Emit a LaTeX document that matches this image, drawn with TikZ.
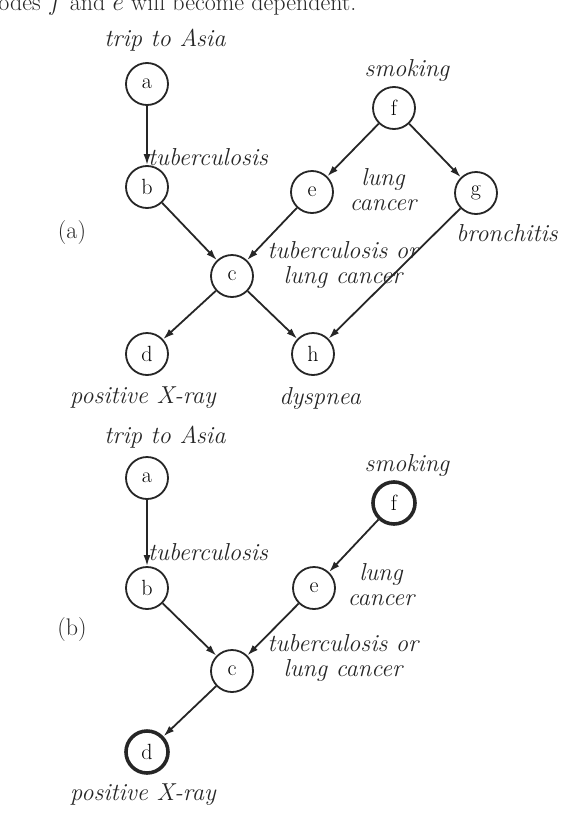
\documentclass[tikz,border=0pt]{standalone}
\usetikzlibrary{positioning,arrows.meta}

\begin{document}
\begin{tikzpicture}[
    x=1pt, y=-1pt,
    var/.style={draw=black!85, circle, line width=1.8pt, minimum size=42pt, inner sep=0pt, font=\fontsize{22}{24}\selectfont},
    obs/.style={var, line width=3.6pt},
    lbl/.style={font=\fontsize{24.5}{25}\selectfont\itshape, align=center, inner sep=0pt, text=black!85},
    tag/.style={font=\fontsize{24}{26}\selectfont, inner sep=0pt, text=black!85},
    arrow/.style={-{Latex[length=11pt,width=7pt]}, line width=1.8pt, draw=black!85}
]
\useasboundingbox (0,0) rectangle (588,822);

% Line of text above the figure (cut off)
\node[tag, anchor=base west] (caption) at (-14,10) {nodes $f$ and $e$ will become dependent.};

% Panel (a): full network
\node[var] (a1) at (147,84) {a};
\node[var] (b1) at (147,187) {b};
\node[var] (e1) at (312,192) {e};
\node[var] (f1) at (394,108) {f};
\node[var] (g1) at (476,193) {g};
\node[var] (c1) at (232,276) {c};
\node[var] (d1) at (147,354) {d};
\node[var] (h1) at (313,354) {h};

\node[tag] (panela) at (72,233) {(a)};
\node[lbl] (asia1) at (165,40) {trip to Asia};
\node[lbl, anchor=west] (tub1) at (148,157) {tuberculosis};
\node[lbl] (smok1) at (407,70) {smoking};
\node[lbl] (lung1) at (383,190) {lung\\cancer};
\node[lbl] (bron1) at (507,233) {bronchitis};
\node[lbl] (either1) at (343,265) {tuberculosis or\\lung cancer};
\node[lbl] (xray1) at (143,398) {positive X-ray};
\node[lbl] (dysp1) at (320,398) {dyspnea};

\draw[arrow] (a1) -- (b1);
\draw[arrow] (f1) -- (e1);
\draw[arrow] (f1) -- (g1);
\draw[arrow] (b1) -- (c1);
\draw[arrow] (e1) -- (c1);
\draw[arrow] (c1) -- (d1);
\draw[arrow] (c1) -- (h1);
\draw[arrow] (g1) -- (h1);

% Panel (b): after pruning, f and d observed
\node[var] (a2) at (147,478) {a};
\node[var] (b2) at (147,588) {b};
\node[var] (e2) at (314,588) {e};
\node[obs] (f2) at (394,503) {f};
\node[var] (c2) at (232,671) {c};
\node[obs] (d2) at (147,752) {d};

\node[tag] (panelb) at (72,630) {(b)};
\node[lbl] (asia2) at (165,437) {trip to Asia};
\node[lbl, anchor=west] (tub2) at (148,552) {tuberculosis};
\node[lbl] (smok2) at (407,465) {smoking};
\node[lbl] (lung2) at (381,585) {lung\\cancer};
\node[lbl] (either2) at (343,658) {tuberculosis or\\lung cancer};
\node[lbl] (xray2) at (143,795) {positive X-ray};

\draw[arrow] (a2) -- (b2);
\draw[arrow] (f2) -- (e2);
\draw[arrow] (b2) -- (c2);
\draw[arrow] (e2) -- (c2);
\draw[arrow] (c2) -- (d2);

\end{tikzpicture}
\end{document}
